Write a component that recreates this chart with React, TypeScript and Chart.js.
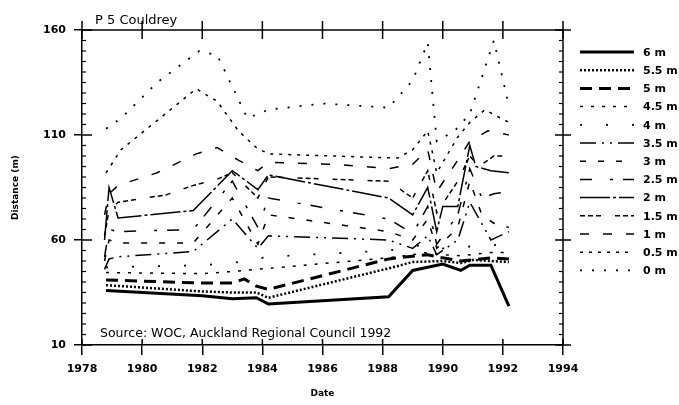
import React, { useEffect, useRef } from "react";
import { Chart, registerables } from "chart.js";

Chart.register(...registerables);

// ---- Data (distance from benchmark to each contour, m) ----
const seriesLabels = ["6 m", "5.5 m", "5 m", "4.5 m", "4 m", "3.5 m", "3 m", "2.5 m", "2 m", "1.5 m", "1 m", "0.5 m", "0 m"];

const d6 = [1978.8, 1982.0, 1983.0, 1983.8, 1984.2, 1988.2, 1989.0, 1990.0, 1990.6, 1990.9, 1991.6, 1992.2];
const v6 = [36, 33.5, 32, 32.5, 29.5, 33, 45.5, 48.5, 45.5, 48, 48, 28.5];

const d55 = [1978.8, 1982.0, 1983.0, 1983.8, 1984.2, 1988.2, 1989.0, 1990.0, 1990.6, 1991.0, 1992.2];
const v55 = [38.5, 35.5, 35, 35, 32.5, 46.5, 49.5, 50, 49, 50.5, 49.5];

const d5 = [1978.8, 1982.0, 1983.0, 1983.4, 1983.8, 1984.2, 1988.2, 1989.5, 1990.0, 1990.6, 1991.6, 1992.2];
const v5 = [41, 39.5, 39.5, 41.5, 38, 36.5, 51, 53, 51.5, 50, 51.5, 51];

const d45 = [1978.8, 1982.0, 1983.0, 1984.2, 1988.2, 1989.5, 1990.0, 1990.6, 1991.6, 1992.2];
const v45 = [44.5, 44, 45, 46.5, 51.5, 54, 53, 52.5, 54, 54];

const d4 = [1978.8, 1982.0, 1983.0, 1984.2, 1988.2, 1989.5, 1990.0, 1991.0, 1992.2];
const v4 = [47, 48, 49, 52, 55, 58, 56, 57, 58];

const d35 = [1978.75, 1978.9, 1979.2, 1981.7, 1983.0, 1983.85, 1984.2, 1988.2, 1989.0, 1989.5, 1989.8, 1990.5, 1990.9, 1991.6, 1992.2];
const v35 = [46, 51, 52, 54.5, 70, 56, 62, 60, 56, 62, 53, 60, 78, 60, 64];

const d3 = [1978.75, 1978.9, 1979.2, 1981.7, 1983.0, 1983.85, 1984.2, 1988.2, 1989.0, 1989.5, 1989.8, 1990.5, 1990.9, 1991.3, 1991.7, 1992.2];
const v3 = [50, 60, 58.6, 58.6, 80, 58, 72, 64, 60, 70, 56, 66, 88, 72, 68, 66];

const d25 = [1978.75, 1978.9, 1979.2, 1981.7, 1983.0, 1983.85, 1984.2, 1988.2, 1989.0, 1989.5, 1989.8, 1990.5, 1990.9, 1991.3, 1991.7, 1992.2];
const v25 = [52, 65, 64, 65, 88, 66, 80, 70, 63, 76, 58, 72, 94, 80, 82, 83];

const d2 = [1978.75, 1978.9, 1979.2, 1981.7, 1983.0, 1983.85, 1984.2, 1988.2, 1989.0, 1989.5, 1989.8, 1990.0, 1990.5, 1990.9, 1991.1, 1991.6, 1992.2];
const v2 = [60, 85, 70.5, 74, 93, 84, 91, 80, 72, 85, 64, 76, 76, 105, 95, 93, 92];

const d15 = [1978.75, 1978.9, 1979.2, 1980.8, 1981.7, 1982.5, 1983.0, 1983.85, 1984.2, 1988.2, 1989.0, 1989.5, 1989.8, 1990.5, 1990.9, 1991.2, 1991.7, 1992.2];
const v15 = [62, 74, 78, 81.5, 86, 89, 92, 80, 90, 88, 80, 93, 73, 88, 100, 95, 100, 100];

const d1 = [1978.75, 1978.9, 1979.2, 1980.5, 1981.8, 1982.5, 1983.2, 1983.85, 1984.2, 1986.5, 1988.2, 1989.0, 1989.5, 1989.8, 1990.5, 1990.9, 1991.5, 1992.2];
const v1 = [72, 82, 86, 92, 101, 104, 98, 93, 97, 96, 94, 96, 103, 83, 98, 107, 112, 110];

const d05 = [1978.8, 1979.3, 1981.8, 1982.5, 1983.2, 1983.8, 1984.2, 1988.5, 1989.0, 1989.5, 1989.8, 1990.5, 1990.9, 1991.4, 1992.2];
const v05 = [92, 103, 132, 126, 112, 104, 101, 99, 103, 112, 92, 109, 116, 122, 116];

const d0 = [1978.8, 1979.3, 1980.5, 1981.9, 1982.5, 1983.0, 1983.5, 1984.2, 1986.0, 1988.2, 1989.0, 1989.5, 1989.8, 1990.4, 1990.9, 1991.7, 1992.2];
const v0 = [113, 118, 135, 150, 148, 133, 118, 122, 125, 123, 136, 154, 107, 112, 120, 155, 124];

const xTicks = [1978, 1980, 1982, 1984, 1986, 1988, 1990, 1992, 1994];
const yTicks = [10, 60, 110, 160];
const yMinorStep = 5;

const chartTitle = "P 5 Couldrey";
const sourceNote = "Source: WOC, Auckland Regional Council 1992";

const seriesDates = [d6, d55, d5, d45, d4, d35, d3, d25, d2, d15, d1, d05, d0];
const seriesValues = [v6, v55, v5, v45, v4, v35, v3, v25, v2, v15, v1, v05, v0];

// line styles
const styles = [
  { w: 3, dash: [] as number[] },
  { w: 2.5, dash: [2, 2] },
  { w: 3, dash: [12, 7] },
  { w: 1.5, dash: [3, 8] },
  { w: 1.8, dash: [2, 24] },
  { w: 1.5, dash: [16, 6, 2, 6, 2, 6] },
  { w: 1.5, dash: [6, 12] },
  { w: 1.5, dash: [12, 18, 3, 10] },
  { w: 1.5, dash: [30, 3, 3, 3] },
  { w: 1.5, dash: [5, 3, 5, 3, 5, 14] },
  { w: 1.5, dash: [9, 14] },
  { w: 1.5, dash: [3, 6] },
  { w: 1.8, dash: [2, 10] },
];

const FONT = "'DejaVu Sans', 'Liberation Sans', sans-serif";

const framePlugin = {
  id: "frame",
  afterDraw(chart: any) {
    const { ctx, chartArea: a, scales } = chart;
    const xs = scales.x;
    const ys = scales.y;
    const line = (x1: number, y1: number, x2: number, y2: number) => {
      ctx.beginPath();
      ctx.moveTo(x1, y1);
      ctx.lineTo(x2, y2);
      ctx.stroke();
    };
    ctx.save();
    ctx.strokeStyle = "#000";
    ctx.setLineDash([]);
    ctx.lineWidth = 1.5;
    line(a.left, a.top, a.right, a.top);
    line(a.right, a.top, a.right, a.bottom);
    xTicks.forEach((v) => {
      const px = xs.getPixelForValue(v);
      line(px, a.bottom, px, a.bottom - 6);
      line(px, a.top - 9, px, a.top + 9);
    });
    yTicks.forEach((v) => {
      const py = ys.getPixelForValue(v);
      line(a.left, py, a.left + 10, py);
      line(a.right - 8, py, a.right + 8, py);
    });
    ctx.lineWidth = 1.2;
    for (let v = yTicks[0] + yMinorStep; v < yTicks[yTicks.length - 1]; v += yMinorStep) {
      if (yTicks.includes(v)) continue;
      const py = ys.getPixelForValue(v);
      line(a.left, py, a.left + 4, py);
      line(a.right - 4, py, a.right, py);
    }
    // title & source
    ctx.fillStyle = "#000";
    ctx.textAlign = "left";
    ctx.textBaseline = "alphabetic";
    ctx.font = `13px ${FONT}`;
    ctx.fillText(chartTitle, a.left + 13, a.top - 6);
    ctx.font = `12.5px ${FONT}`;
    ctx.fillText(sourceNote, a.left + 18, a.bottom - 8);
    // legend
    chart.data.datasets.forEach((ds: any, i: number) => {
      const y = a.top + 22 + i * 18.2;
      ctx.lineWidth = ds.borderWidth;
      ctx.setLineDash(ds.borderDash || []);
      line(a.right + 17, y, a.right + 71, y);
      ctx.setLineDash([]);
      ctx.font = `bold 11px ${FONT}`;
      ctx.textBaseline = "middle";
      ctx.fillText(ds.label, a.right + 80, y + 1);
    });
    ctx.restore();
  },
};

export default function App() {
  const ref = useRef<HTMLCanvasElement>(null);
  useEffect(() => {
    if (!ref.current) return;
    const datasets = seriesLabels.map((label, i) => ({
      label,
      data: seriesDates[i].map((d, j) => ({ x: d, y: seriesValues[i][j] })),
      borderColor: "#000",
      backgroundColor: "#000",
      borderWidth: styles[i].w,
      borderDash: styles[i].dash,
      pointRadius: 0,
      tension: 0,
      fill: false,
    }));
    const tickFont = { family: FONT, size: 11, weight: "bold" as const };
    const chart = new Chart(ref.current, {
      type: "line",
      data: { datasets },
      options: {
        responsive: false,
        animation: false,
        layout: { padding: { top: 30, right: 116, left: 0, bottom: 0 } },
        plugins: { legend: { display: false }, tooltip: { enabled: false } },
        scales: {
          x: {
            type: "linear",
            min: 1978,
            max: 1994,
            afterBuildTicks: (s: any) => {
              s.ticks = xTicks.map((v) => ({ value: v }));
            },
            afterFit: (s: any) => {
              s.height = 60;
            },
            ticks: { color: "#000", font: tickFont, padding: 8, maxRotation: 0, callback: (v: any) => String(v) },
            grid: { drawOnChartArea: false, tickLength: 10, color: "#000", lineWidth: 1.5 },
            border: { color: "#000", width: 1.5 },
            title: { display: true, text: "Date", color: "#000", font: { family: FONT, size: 9, weight: "bold" }, padding: { top: 2, bottom: 6 } },
          },
          y: {
            type: "linear",
            min: 10,
            max: 160,
            afterBuildTicks: (s: any) => {
              s.ticks = yTicks.map((v) => ({ value: v }));
            },
            afterFit: (s: any) => {
              s.width = 82;
            },
            ticks: { color: "#000", font: tickFont, padding: 8 },
            grid: { drawOnChartArea: false, tickLength: 8, color: "#000", lineWidth: 1.5 },
            border: { color: "#000", width: 1.5 },
            title: { display: true, text: "Distance (m)", color: "#000", font: { family: FONT, size: 9, weight: "bold" }, padding: { top: 10, bottom: 0 } },
          },
        },
      },
      plugins: [framePlugin],
    });
    return () => chart.destroy();
  }, []);
  return (
    <div style={{ position: "fixed", left: 0, top: 0, width: 679, height: 405, background: "#fff" }}>
      <canvas ref={ref} width={679} height={405} />
    </div>
  );
}
